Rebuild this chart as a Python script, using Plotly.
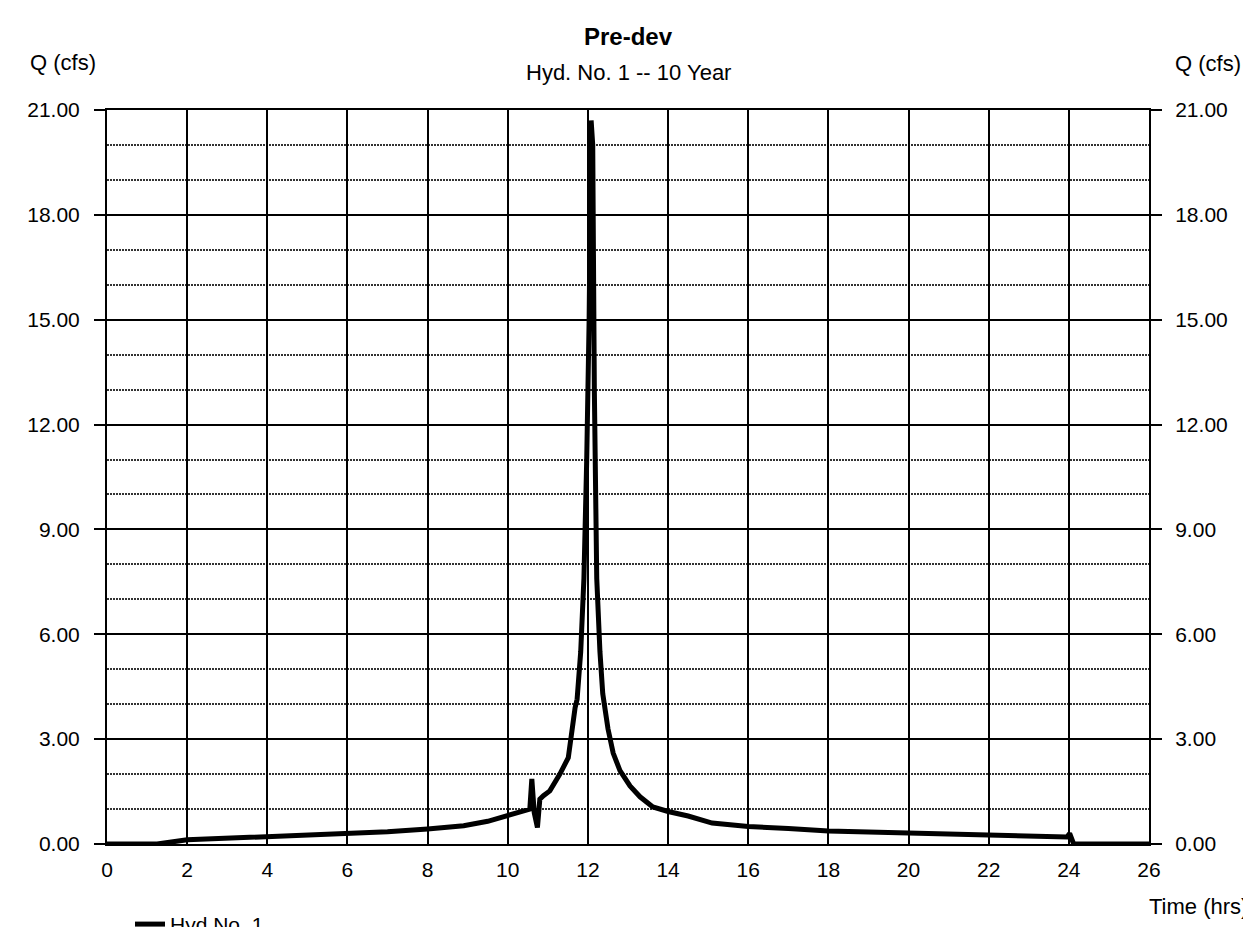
import plotly.graph_objects as go

# Hydrograph data (time in hrs, Q in cfs)
time_hrs = [0, 1.25, 2, 3, 4, 5, 6, 7, 8, 8.9, 9.5, 10, 10.5, 10.55, 10.6, 10.66,
            10.74, 10.8, 10.89, 11.05, 11.3, 11.51, 11.68, 11.73, 11.82, 11.9, 11.97, 12.03,
            12.08, 12.12, 12.16, 12.22, 12.3, 12.37, 12.5, 12.63, 12.8, 13.05, 13.3,
            13.62, 14.0, 14.5, 15.1, 15.8, 16, 17, 18, 19, 20, 21, 22, 22.5, 23, 23.5,
            23.95, 24.02, 24.12, 26]
flow_cfs = [0, 0, 0.12, 0.16, 0.2, 0.24, 0.29, 0.35, 0.43, 0.52, 0.65, 0.8, 0.97, 1.0,
            1.86, 0.9, 0.47, 1.28, 1.38, 1.52, 2.0, 2.47, 3.9, 4.14, 5.5, 7.6, 11.0, 15.0,
            20.7, 20.0, 13.0, 7.6, 5.5, 4.3, 3.3, 2.6, 2.1, 1.66, 1.35, 1.06, 0.93, 0.8,
            0.6, 0.52, 0.5, 0.44, 0.37, 0.34, 0.31, 0.28, 0.26, 0.27, 0.24, 0.22, 0.2,
            0.3, 0.0, 0.0]

x_ticks = list(range(0, 27, 2))
y_ticks = [0, 3, 6, 9, 12, 15, 18, 21]
y_labels = [f"{v:.2f}" for v in y_ticks]

FONT = "Liberation Sans, Arial, Helvetica, sans-serif"

# page layout (the html body adds an 8px offset)
OFF = 8
L, R, T, B = 107, 1149, 110, 844.5


def px_x(p):
    return (p - L) / (R - L)


def px_y(p):
    return (B - p) / (B - T)


fig = go.Figure()
fig.add_trace(go.Scatter(x=time_hrs, y=flow_cfs, mode="lines", name="Hyd No. 1",
                         line=dict(color="black", width=5)))
fig.add_trace(go.Scatter(x=time_hrs, y=flow_cfs, mode="lines", yaxis="y2",
                         line=dict(color="rgba(0,0,0,0)", width=0), showlegend=False,
                         hoverinfo="skip"))

W, H = 1251 - OFF, 927 - OFF
fig.update_layout(
    width=W, height=H,
    margin=dict(l=L - OFF, r=1251 - R, t=T - OFF, b=927 - B, autoexpand=False),
    paper_bgcolor="white", plot_bgcolor="white",
    font=dict(family=FONT, size=21, color="black"),
    showlegend=True,
    legend=dict(x=px_x(130), xanchor="left", y=px_y(925), yanchor="middle",
                font=dict(size=21), bgcolor="rgba(0,0,0,0)"),
    xaxis=dict(range=[0, 26], tickvals=x_ticks, ticktext=[str(v) for v in x_ticks],
               showgrid=True, gridcolor="black", gridwidth=2,
               showline=True, linecolor="black", linewidth=2, mirror=True,
               ticks="", zeroline=False, ticklabelstandoff=6),
    yaxis=dict(range=[0, 21], tickvals=y_ticks, ticktext=y_labels,
               showgrid=True, gridcolor="black", gridwidth=2,
               minor=dict(dtick=1, showgrid=True, gridcolor="#333", gridwidth=2,
                          griddash="2px,1px", ticks=""),
               showline=True, linecolor="black", linewidth=2,
               ticks="outside", ticklen=11, tickwidth=2, tickcolor="black",
               zeroline=False, ticklabelstandoff=10),
    yaxis2=dict(range=[0, 21], tickvals=y_ticks, ticktext=y_labels,
                overlaying="y", side="right", showgrid=False,
                showline=True, linecolor="black", linewidth=2,
                ticks="outside", ticklen=11, tickwidth=2, tickcolor="black",
                zeroline=False, ticklabelstandoff=9),
    annotations=[
        dict(text="<b>Pre-dev</b>", x=px_x(628), y=px_y(36), font=dict(size=24)),
        dict(text="Hyd. No. 1 -- 10 Year", x=px_x(628), y=px_y(72), font=dict(size=22)),
        dict(text="Q (cfs)", x=px_x(62.5), y=px_y(62), font=dict(size=22)),
        dict(text="Q (cfs)", x=px_x(1208), y=px_y(63), font=dict(size=22)),
        dict(text="Time (hrs)", x=px_x(1198), y=px_y(907), font=dict(size=22)),
    ],
)
fig.update_annotations(xref="paper", yref="paper", showarrow=False,
                       xanchor="center", yanchor="middle")

fig.write_html("out.html")
